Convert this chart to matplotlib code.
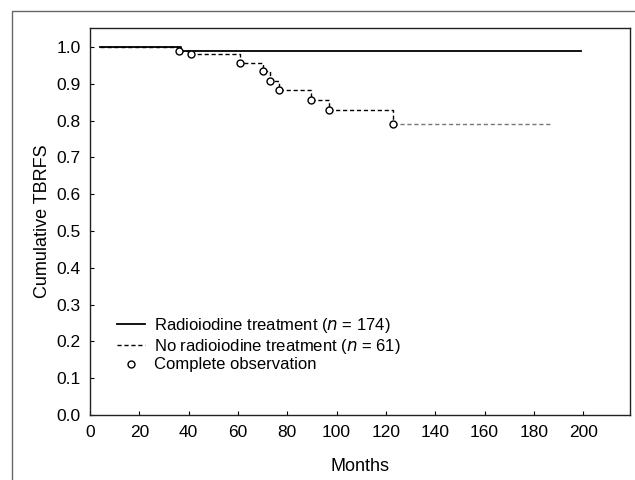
import matplotlib
matplotlib.use("Agg")
import matplotlib.pyplot as plt
from matplotlib.lines import Line2D
from matplotlib.patches import Rectangle

plt.rcParams["font.family"] = ["Liberation Sans", "DejaVu Sans"]

# Radioiodine treatment curve (step times in months, survival)
rai_months = [4, 37, 199]
rai_surv = [1.0, 0.99, 0.99]

# No radioiodine treatment curve: events (complete observations)
no_rai_start = 4
event_months = [36, 41, 61, 70, 73, 76.5, 89.5, 97, 123]
event_surv = [0.99, 0.981, 0.958, 0.935, 0.908, 0.883, 0.856, 0.829, 0.792]
no_rai_end = 187

x_ticks = [0, 20, 40, 60, 80, 100, 120, 140, 160, 180, 200]
y_ticks = [0.0, 0.1, 0.2, 0.3, 0.4, 0.5, 0.6, 0.7, 0.8, 0.9, 1.0]


def main():
    fig = plt.figure(figsize=(6.35, 4.8), dpi=100)
    ax = fig.add_axes([90 / 635, 1 - 415 / 480, 540 / 635, 387 / 480])

    # outer frame of the original figure
    fig.patches.append(Rectangle((12 / 635, -0.1), 1.2, 1 - 11 / 480 + 0.1,
                                 transform=fig.transFigure, fill=False,
                                 edgecolor="#666666", linewidth=1.0))

    ax.step(rai_months, rai_surv, where="post", color="black", lw=1.3)

    t = [no_rai_start] + event_months
    s = [1.0] + event_surv
    ax.step(t, s, where="post", color="black", lw=1.0, ls=(0, (3, 2)))
    ax.plot([event_months[-1], no_rai_end], [event_surv[-1], event_surv[-1]],
            color="#777777", lw=1.0, ls=(0, (3, 2)))
    ax.plot(event_months, event_surv, "o", mfc="white", mec="black",
            ms=5, mew=1.0, zorder=3)

    ax.set_xlim(0, 219)
    ax.set_ylim(0, 1.052)
    ax.set_xticks(x_ticks)
    ax.set_yticks(y_ticks)
    ax.set_yticklabels([f"{v:.1f}" for v in y_ticks])
    ax.tick_params(direction="in", length=3, labelsize=12.5)
    ax.tick_params(axis="x", pad=7)
    ax.tick_params(axis="y", pad=6.5)
    for sp in ax.spines.values():
        sp.set_linewidth(1.0)
        sp.set_color("#222222")

    ax.set_xlabel("Months", fontsize=13, labelpad=13)
    ax.set_ylabel("Cumulative TBRFS", fontsize=13, labelpad=4)

    handles = [
        Line2D([], [], color="black", lw=1.3),
        Line2D([], [], color="black", lw=1.0, ls=(0, (3, 2))),
        Line2D([], [], ls="none", marker="o", mfc="white", mec="black",
               ms=5, mew=1.0),
    ]
    labels = [
        "Radioiodine treatment ($\\mathit{n}$ = 174)",
        "No radioiodine treatment ($\\mathit{n}$ = 61)",
        "Complete observation",
    ]
    ax.legend(handles, labels, loc="lower left", bbox_to_anchor=(0.05, 0.11),
              frameon=False, fontsize=12, handlelength=1.7,
              handletextpad=0.5, labelspacing=0.1, borderpad=0,
              borderaxespad=0)

    fig.savefig("out.png", dpi=100)


if __name__ == "__main__":
    main()
